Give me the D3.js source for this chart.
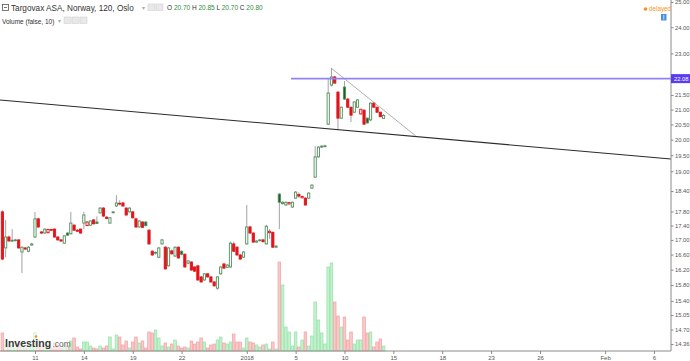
<!DOCTYPE html>
<html>
<head>
<meta charset="utf-8">
<script src="https://cdn.jsdelivr.net/npm/d3@7"></script>
<style>
  body { margin: 0; background: #fff; }
  svg { display: block; font-family: "Liberation Sans", Arial, sans-serif; }
</style>
</head>
<body>
<svg id="chart" width="690" height="361"></svg>
<script>
// 120 min bars, Targovax ASA (Oslo), 7 Dec 2017 -> 12 Jan 2018
var opens = [17.79,16.78,17.08,16.97,16.99,17.00,16.67,16.78,16.69,16.86,
  17.08,17.59,17.22,17.19,17.20,17.29,17.30,17.08,17.00,16.91,
  17.19,17.17,17.41,17.27,17.30,17.47,17.40,17.41,17.56,17.50,
  17.76,17.90,17.64,17.47,17.77,17.96,18.04,18.05,17.90,17.79,
  17.79,17.59,17.36,17.50,17.50,17.27,16.69,16.64,16.53,16.89,
  16.80,16.30,16.70,16.56,16.80,16.69,16.61,16.37,16.40,16.27,
  16.30,16.01,15.93,16.09,16.01,15.88,15.72,16.09,16.35,16.26,
  16.27,16.89,16.80,16.59,16.53,16.89,17.36,17.19,16.94,16.98,
  17.00,16.89,17.20,17.21,16.80,18.31,18.03,17.99,18.02,17.93,
  18.19,18.30,18.20,18.19,18.19,18.49,18.82,19.45,19.76,19.78,
  20.51,21.85,22.14,21.60,20.71,21.78,21.36,21.08,20.91,21.08,
  20.85,20.98,20.71,20.65,21.22,21.08,20.91,20.70];
var highs = [17.84,17.56,17.12,17.30,17.03,17.02,16.82,16.80,16.83,16.92,
  17.79,17.62,17.24,17.32,17.32,17.31,17.32,17.10,17.02,17.13,
  17.21,17.79,17.45,17.30,17.31,17.79,17.53,17.55,17.58,17.66,
  17.93,17.93,17.66,17.64,17.80,18.28,18.13,18.07,17.92,17.92,
  17.82,17.62,17.55,17.52,17.52,17.30,16.72,16.68,16.80,17.02,
  16.83,16.80,16.74,16.82,16.82,16.71,16.63,16.45,16.42,16.29,
  16.32,16.03,16.11,16.11,16.03,15.90,16.03,16.29,16.37,16.35,
  16.95,16.95,16.83,16.61,16.69,17.99,17.40,17.21,16.99,17.02,
  17.02,17.42,17.30,17.23,16.86,18.34,18.10,18.09,18.08,18.09,
  18.40,18.36,18.26,18.22,18.36,18.60,19.79,19.79,19.82,19.84,
  22.10,22.46,22.18,21.65,21.10,21.99,21.40,21.10,21.28,21.36,
  21.03,21.00,20.73,21.24,21.25,21.10,20.93,20.85];
var lows = [16.45,16.53,16.95,16.94,16.96,16.76,16.11,16.72,16.66,16.84,
  17.05,17.33,17.16,17.17,17.18,17.26,17.06,16.98,16.94,16.90,
  17.12,17.15,17.25,17.22,17.17,17.30,17.38,17.39,17.43,17.44,
  17.74,17.64,17.58,17.45,17.74,17.93,17.98,17.94,17.68,17.77,
  17.60,17.33,17.34,17.33,17.37,16.86,16.56,16.60,16.50,16.87,
  16.20,16.28,16.60,16.54,16.49,16.58,16.25,16.34,16.17,16.14,
  15.91,15.86,15.91,15.99,15.86,15.76,15.68,16.07,16.22,16.24,
  16.25,16.67,16.57,16.46,16.51,16.87,17.17,16.92,16.92,16.96,
  16.93,16.87,17.03,16.78,16.77,17.30,18.00,17.97,18.00,17.91,
  18.17,18.20,18.18,17.97,18.17,18.47,18.80,19.42,19.74,19.75,
  20.48,21.80,21.90,20.31,20.68,21.33,21.05,20.58,20.88,21.05,
  20.83,20.48,20.53,20.60,21.06,20.89,20.74,20.70];
var closes = [16.48,17.08,16.97,16.99,17.00,16.78,16.80,16.75,16.80,16.89,
  17.59,17.36,17.19,17.30,17.29,17.28,17.08,17.00,16.97,17.11,
  17.13,17.47,17.27,17.24,17.19,17.70,17.50,17.53,17.45,17.46,
  17.90,17.67,17.60,17.62,17.79,18.05,18.02,17.96,17.70,17.90,
  17.62,17.36,17.53,17.35,17.40,16.89,16.59,16.66,16.78,17.00,
  16.22,16.78,16.62,16.80,16.51,16.61,16.27,16.43,16.19,16.16,
  15.93,15.88,16.09,16.01,15.88,15.78,16.01,16.27,16.24,16.32,
  16.91,16.69,16.59,16.48,16.67,17.36,17.19,16.94,16.97,17.00,
  16.95,17.38,17.24,16.80,16.83,18.07,18.07,18.07,18.06,18.07,
  18.37,18.25,18.24,17.99,18.34,18.58,19.45,19.76,19.79,19.80,
  21.57,22.14,21.92,20.71,21.08,21.36,21.08,20.81,21.26,21.33,
  21.01,20.51,20.55,21.22,21.08,20.91,20.76,20.80];
var volumes = [360,120,80,100,60,140,180,60,100,80,
  360,220,100,120,80,60,160,120,60,140,
  100,200,260,80,40,180,180,100,60,40,
  100,60,100,280,40,320,280,120,200,60,
  180,280,160,200,60,380,360,420,260,100,
  160,80,140,220,100,60,80,60,200,140,
  180,260,180,60,120,140,220,280,160,140,
  180,340,180,180,60,260,180,160,120,80,
  120,140,40,180,40,1780,1320,480,380,100,
  380,80,220,380,100,300,980,620,360,140,
  1680,1760,980,700,480,680,220,380,140,220,
  220,680,360,380,80,180,240,100];

// time axis labels, placed on the bar index of the first bar of that day
var timeLabels = ["11","14","19","22","2018","5","10","15","18","23","26","Feb","6"];
var timeBars   = [10, 25, 40, 55, 75, 90, 105, 120, 135, 150, 165, 185, 200];

// price axis labels
var priceTicks = [25, 24, 23, 21.5, 21, 20.5, 20, 19.5, 19, 18.4, 17.8, 17.4, 17, 16.6, 16.2, 15.8, 15.4, 15.05, 14.7, 14.36];

// drawings (bar index, price)
var trendLine = [[-0.74, 21.33], [205.2, 19.38]];
var wedgeLine = [[100.9, 22.46], [126.9, 20.12]];
var levelLine = [[88.6, 22.08], [205.2, 22.08]];
var lastLevel = 22.08;

var plotRight = 671, plotBottom = 351;
var upColor = "#4f8f5a", upFill = "#1f5c2c", downColor = "#e3141b";

var svg = d3.select("#chart");

var x = d3.scaleLinear().domain([0, 200]).range([2.4, 654]);
var y = d3.scaleLog().domain([14.36, 25]).range([344, 2]);
var vy = d3.scaleLinear().domain([0, d3.max(volumes)]).range([plotBottom, 262]);

var bars = closes.map(function(c, i) {
  return {i: i, o: opens[i], h: highs[i], l: lows[i], c: c, v: volumes[i],
          prev: i ? closes[i - 1] : opens[i]};
});

// volume
svg.append("g")
  .selectAll("rect")
  .data(bars)
  .join("rect")
    .attr("x", d => x(d.i) - 1.3)
    .attr("width", 2.6)
    .attr("y", d => vy(d.v))
    .attr("height", d => plotBottom - vy(d.v))
    .attr("fill", d => d.c >= d.o ? "#c2f2cd" : "#f9c9c9")
    .attr("stroke", d => d.c >= d.o ? "#96e0a8" : "#f0a2a2")
    .attr("stroke-width", 0.7);

// investing.com logo over the volume
var logo = svg.append("g");
logo.append("rect").attr("x", 4).attr("y", 333).attr("width", 64).attr("height", 17)
  .attr("fill", "#fff").attr("opacity", 0.6);
logo.append("text").attr("x", 5).attr("y", 347)
  .attr("font-size", 10.5).attr("font-weight", "bold").attr("fill", "#3a3a3a")
  .text("Investing");
logo.append("text").attr("x", 52.5).attr("y", 347)
  .attr("font-size", 8.5).attr("fill", "#666").text(".com");
logo.append("circle").attr("cx", 36).attr("cy", 336.5).attr("r", 1.3).attr("fill", "#f7931e");

// candles
var candle = svg.append("g").selectAll("g").data(bars).join("g");
candle.append("line")
  .attr("x1", d => x(d.i)).attr("x2", d => x(d.i))
  .attr("y1", d => y(d.h)).attr("y2", d => y(d.l))
  .attr("stroke", "#a3a3a3").attr("stroke-width", 1);
candle.append("rect")
  .attr("x", d => x(d.i) - 1.1)
  .attr("width", 2.2)
  .attr("y", d => y(Math.max(d.o, d.c)))
  .attr("height", d => Math.max(0.8, Math.abs(y(d.o) - y(d.c))))
  .attr("stroke", d => d.c >= d.prev ? upColor : downColor)
  .attr("stroke-width", 0.9)
  .attr("fill", function(d) {
    if (d.c > d.o) return "#fff";
    return d.c >= d.prev ? upFill : downColor;
  });

// drawings
var line = d3.line().x(d => x(d[0])).y(d => y(d[1]));
svg.append("path").attr("d", line(trendLine)).attr("fill", "none")
  .attr("stroke", "#2b2b2b").attr("stroke-width", 1.1);
svg.append("path").attr("d", line(wedgeLine)).attr("fill", "none")
  .attr("stroke", "#9a9a9a").attr("stroke-width", 0.8);
svg.append("path").attr("d", line(levelLine)).attr("fill", "none")
  .attr("stroke", "#9583f5").attr("stroke-width", 1.6);

// price axis
var yAxis = svg.append("g")
  .attr("transform", "translate(" + plotRight + ",0)")
  .call(d3.axisRight(y).tickValues(priceTicks).tickFormat(d3.format(".2f")).tickSize(2.5).tickPadding(1.5));
yAxis.select(".domain").remove();
yAxis.selectAll("text").attr("font-size", 5.8).attr("fill", "#555").attr("font-family", "Liberation Sans, Arial, sans-serif");
yAxis.selectAll("line").attr("stroke", "#888");

svg.append("line").attr("x1", plotRight).attr("x2", plotRight).attr("y1", 0).attr("y2", plotBottom)
  .attr("stroke", "#8a8a8a");

// last level label
svg.append("rect").attr("x", plotRight).attr("y", y(lastLevel) - 4.5).attr("width", 19).attr("height", 9)
  .attr("fill", "#5b3cf4");
svg.append("text").attr("x", plotRight + 3).attr("y", y(lastLevel) + 2.1)
  .attr("font-size", 5.8).attr("fill", "#fff").text(lastLevel.toFixed(2));

// time axis
var xAxis = svg.append("g")
  .attr("transform", "translate(0," + plotBottom + ")")
  .call(d3.axisBottom(x).tickValues(timeBars).tickFormat((d, i) => timeLabels[i]).tickSize(3).tickPadding(1.5));
xAxis.select(".domain").remove();
xAxis.selectAll("text").attr("font-size", 6).attr("fill", "#555").attr("font-family", "Liberation Sans, Arial, sans-serif");
xAxis.selectAll("line").attr("stroke", "#888");
svg.append("line").attr("x1", 0).attr("x2", plotRight).attr("y1", plotBottom).attr("y2", plotBottom)
  .attr("stroke", "#8a8a8a");

// header
var head = svg.append("g");
head.append("rect").attr("x", 2.5).attr("y", 4.5).attr("width", 6).attr("height", 6)
  .attr("fill", "none").attr("stroke", "#555").attr("stroke-width", 0.8);
head.append("line").attr("x1", 4).attr("x2", 7).attr("y1", 7.5).attr("y2", 7.5).attr("stroke", "#555").attr("stroke-width", 0.8);
head.append("text").attr("x", 11).attr("y", 11).attr("font-size", 8.2).attr("fill", "#333")
  .text("Targovax ASA, Norway, 120, Oslo");
head.append("text").attr("x", 141.5).attr("y", 10).attr("font-size", 5.5).attr("fill", "#aaa").text("▾");
[148, 156].forEach(function(px) {
  head.append("rect").attr("x", px).attr("y", 4).attr("width", 7).attr("height", 6.5)
    .attr("fill", "#e9e9e9").attr("stroke", "#d0d0d0").attr("stroke-width", 0.6);
});
var last = bars[bars.length - 1];
var ohlc = head.append("text").attr("x", 167).attr("y", 10).attr("font-size", 6.5);
[["O", last.o], ["H", last.h], ["L", last.l], ["C", last.c]].forEach(function(p, k) {
  ohlc.append("tspan").attr("fill", "#333").text((k ? " " : "") + p[0] + " ");
  ohlc.append("tspan").attr("fill", "#2e8b3e").text(p[1].toFixed(2));
});

head.append("text").attr("x", 2).attr("y", 23.5).attr("font-size", 6.5).attr("fill", "#333")
  .text("Volume (false, 10)");
head.append("text").attr("x", 57.5).attr("y", 23).attr("font-size", 5.5).attr("fill", "#aaa").text("▾");
[64, 72, 80].forEach(function(px) {
  head.append("rect").attr("x", px).attr("y", 17).attr("width", 7).attr("height", 6.5)
    .attr("fill", "#e9e9e9").attr("stroke", "#d0d0d0").attr("stroke-width", 0.6);
});

// delayed badge
head.append("circle").attr("cx", 645.5).attr("cy", 9).attr("r", 1.8).attr("fill", "#f7931e");
head.append("text").attr("x", 649).attr("y", 11.3).attr("font-size", 6.3).attr("fill", "#f7931e").text("delayed");
head.append("rect").attr("x", 661).attr("y", 14).attr("width", 5.5).attr("height", 6.5).attr("fill", "#4a8fdc");
head.append("line").attr("x1", 663.75).attr("x2", 663.75).attr("y1", 15).attr("y2", 19.5)
  .attr("stroke", "#fff").attr("stroke-width", 0.7);
</script>
</body>
</html>
